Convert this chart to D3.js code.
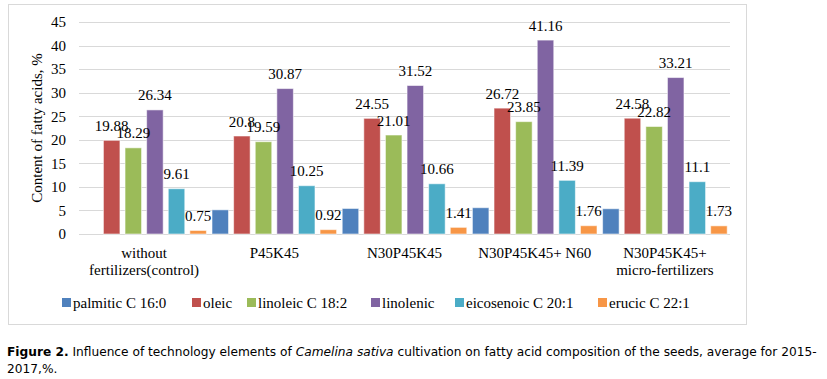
<!DOCTYPE html>
<html>
<head>
<meta charset="utf-8">
<script src="https://cdn.jsdelivr.net/npm/d3@7"></script>
<style>
  html, body { margin: 0; padding: 0; background: #fff; }
  svg { display: block; }
</style>
</head>
<body>
<svg id="chart" width="827" height="379"></svg>
<script>
// ---- data ----
const categories = [
  ["without", "fertilizers(control)"],
  ["P45K45"],
  ["N30P45K45"],
  ["N30P45K45+ N60"],
  ["N30P45K45+", "micro-fertilizers"]
];
const seriesNames = ["palmitic C 16:0", "oleic", "linoleic C 18:2", "linolenic", "eicosenoic C 20:1", "erucic C 22:1"];
const palmitic   = [null, 5.13, 5.42, 5.58, 5.36];
const oleic      = [19.88, 20.8, 24.55, 26.72, 24.58];
const linoleic   = [18.29, 19.59, 21.01, 23.85, 22.82];
const linolenic  = [26.34, 30.87, 31.52, 41.16, 33.21];
const eicosenoic = [9.61, 10.25, 10.66, 11.39, 11.1];
const erucic     = [0.75, 0.92, 1.41, 1.76, 1.73];
const seriesValues = [palmitic, oleic, linoleic, linolenic, eicosenoic, erucic];
const seriesLabeled = [false, true, true, true, true, true];
const colors = ["#4F81BD", "#C0504D", "#9BBB59", "#8064A2", "#4BACC6", "#F79646"];
const yTicks = [0, 5, 10, 15, 20, 25, 30, 35, 40, 45];
const yTitle = "Content of fatty acids, %";
const captionLine1 = [
  { text: "Figure 2.", weight: "bold", style: "normal" },
  { text: " Influence of technology elements of ", weight: "normal", style: "normal" },
  { text: "Camelina sativa", weight: "normal", style: "italic" },
  { text: " cultivation on fatty acid composition of the seeds, average for 2015-", weight: "normal", style: "normal" }
];
const captionLine2 = "2017,%.";

// ---- layout ----
const svg = d3.select("#chart");
const serif = "'Liberation Serif', 'Times New Roman', serif";
const plot = { left: 79, right: 730, top: 22, bottom: 234 };

// chart frame
svg.append("rect")
  .attr("x", 8.5).attr("y", 4.5).attr("width", 738).attr("height", 320)
  .attr("fill", "#fff").attr("stroke", "#d9d9d9").attr("stroke-width", 1);

const catKeys = categories.map((c, i) => i);
const x0 = d3.scaleBand().domain(catKeys).range([plot.left, plot.right]).padding(0);
const x1 = d3.scaleBand().domain(d3.range(seriesNames.length))
  .range([0, x0.bandwidth()]).paddingInner(0.236).paddingOuter(0.13);
const y = d3.scaleLinear().domain([0, 45]).range([plot.bottom, plot.top]);

// gridlines
svg.append("g").selectAll("line").data(yTicks).join("line")
  .attr("x1", plot.left).attr("x2", plot.right)
  .attr("y1", d => Math.round(y(d)) + 0.5).attr("y2", d => Math.round(y(d)) + 0.5)
  .attr("stroke", "#d9d9d9").attr("stroke-width", 1);

// y axis labels via d3 axis
const yAxis = d3.axisLeft(y).tickValues(yTicks).tickSize(0).tickPadding(0);
const gy = svg.append("g").attr("transform", `translate(66,0)`).call(yAxis);
gy.select(".domain").remove();
gy.selectAll("text").attr("font-family", serif).attr("font-size", 15).attr("fill", "#000");

// y title
svg.append("text")
  .attr("transform", `translate(42,128) rotate(-90)`)
  .attr("text-anchor", "middle")
  .attr("font-family", serif).attr("font-size", 15).attr("fill", "#000")
  .text(yTitle);

// bars
const barData = [];
seriesValues.forEach((vals, s) => {
  vals.forEach((v, c) => {
    if (v !== null && v !== undefined) barData.push({ s, c, v });
  });
});

svg.append("g").selectAll("rect").data(barData).join("rect")
  .attr("x", d => x0(d.c) + x1(d.s))
  .attr("y", d => y(d.v))
  .attr("width", x1.bandwidth())
  .attr("height", d => y(0) - y(d.v))
  .attr("fill", d => colors[d.s])
  .attr("stroke", "#ffffff").attr("stroke-opacity", 0.55).attr("stroke-width", 1);

// data labels
svg.append("g").selectAll("text").data(barData.filter(d => seriesLabeled[d.s])).join("text")
  .attr("x", d => x0(d.c) + x1(d.s) + x1.bandwidth() / 2)
  .attr("y", d => y(d.v) - 9.5)
  .attr("text-anchor", "middle")
  .attr("font-family", serif).attr("font-size", 15).attr("fill", "#000")
  .text(d => String(d.v));

// category labels
const gx = svg.append("g");
categories.forEach((lines, c) => {
  lines.forEach((ln, i) => {
    gx.append("text")
      .attr("x", x0(c) + x0.bandwidth() / 2)
      .attr("y", 258 + i * 17)
      .attr("text-anchor", "middle")
      .attr("font-family", serif).attr("font-size", 15).attr("fill", "#000")
      .text(ln);
  });
});

// legend
const legendX = [62, 192, 247, 371, 455, 598];
const lg = svg.append("g");
seriesNames.forEach((name, i) => {
  lg.append("rect").attr("x", legendX[i]).attr("y", 298).attr("width", 9).attr("height", 9)
    .attr("fill", colors[i]);
  lg.append("text").attr("x", legendX[i] + 11).attr("y", 308)
    .attr("font-family", serif).attr("font-size", 15).attr("fill", "#000")
    .text(name);
});

// caption: pieces laid out side by side, font size chosen to fit the line width
const capFont = "'DejaVu Sans', Verdana, sans-serif";
const baseSize = 13.5;
const capG = svg.append("g");
const pieces = captionLine1.map(p => {
  const t = capG.append("text")
    .attr("x", 0).attr("y", 356)
    .attr("font-family", capFont).attr("font-size", baseSize)
    .attr("font-weight", p.weight).attr("font-style", p.style)
    .attr("fill", "#000")
    .style("white-space", "pre")
    .text(p.text);
  return { t };
});
const total = d3.sum(pieces, p => p.t.node().getComputedTextLength());
const target = 810;
const capSize = total > 0 ? baseSize * target / total : baseSize;
let cx = 7;
pieces.forEach(p => {
  p.t.attr("font-size", capSize).attr("x", cx);
  cx += p.t.node().getComputedTextLength();
});
capG.append("text").attr("x", 7).attr("y", 373)
  .attr("font-family", capFont).attr("font-size", capSize).attr("fill", "#000")
  .text(captionLine2);
</script>
</body>
</html>
